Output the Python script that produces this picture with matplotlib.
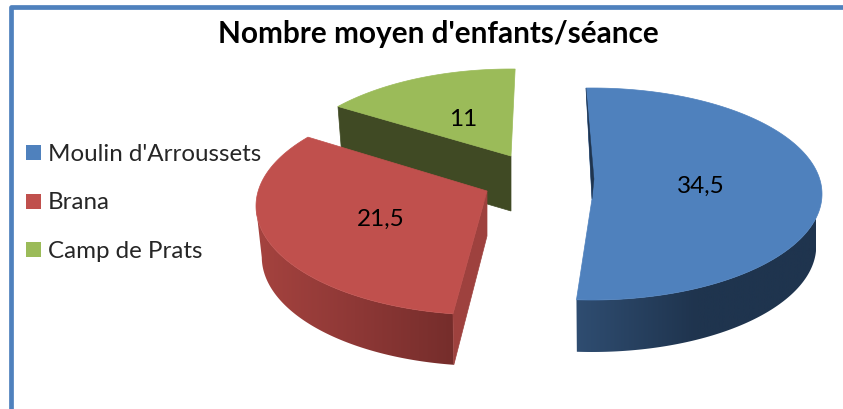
# Nombre moyen d'enfants/seance : camembert 3D eclate
import numpy as np
import matplotlib
matplotlib.use("Agg")
from matplotlib import pyplot as plt
from matplotlib.colors import LinearSegmentedColormap
from matplotlib.patches import Polygon, Rectangle

title = "Nombre moyen d'enfants/séance"
categories = ["Moulin d'Arroussets", "Brana", "Camp de Prats"]
values = [34.5, 21.5, 11]
labels = ["34,5", "21,5", "11"]

top_colors = ["#4F81BD", "#C0504D", "#9BBB59"]
wall_colors = [["#2F4D71", "#1F344E", "#1F344E"],
               ["#A5433F", "#8E3836", "#752D2B"],
               ["#404A24", "#404A24", "#404A24"]]

# position of each exploded slice on the canvas
apex = [(592, 200), (487, 192), (511, 157)]
turn = [-1.5, 3.1, 10.6]
stretch = [1.0, 1.045, 0.838]
rad_x = [230, 231, 231]
rad_y = [106, 109, 111]
drop = [-5, 15, 24]
depth = [52, 51, 55]
label_pos = [(701, 186), (381, 219), (463, 120)]

plt.rcParams['font.family'] = ['Lato', 'DejaVu Sans']

fig = plt.figure(figsize=(8.43, 4.10), dpi=100)
ax = fig.add_axes([0, 0, 1, 1])

# frame, only top and left are in the picture
ax.plot([11, 11, 843], [410, 7.5, 7.5], color="#4F81BD", lw=3.4,
        solid_joinstyle='round', solid_capstyle='butt')


def outline(i, t):
    return rad_x[i] * np.sin(t), drop[i] - rad_y[i] * np.cos(t)


angles = np.cumsum([0] + values) / sum(values) * 2 * np.pi


def draw_slice(i):
    a0 = angles[i] + np.radians(turn[i])
    a1 = a0 + (angles[i + 1] - angles[i]) * stretch[i]
    ax0, ay0 = apex[i]
    t = np.linspace(a0, a1, 200)
    dx, dy = outline(i, t)
    x, y = ax0 + dx, ay0 + dy
    xb, yb = ax0 + dx * 0.975, ay0 + dy + depth[i]

    if i == 2:
        # flat cut side of the green slice
        wall = [(x[0], y[0]), (ax0, ay0), (ax0, ay0 + depth[i]),
                (xb[0], yb[0])]
        ax.add_patch(Polygon(wall, fc=wall_colors[i][0], ec=wall_colors[i][0], lw=0.5))
    else:
        # rounded wall, only the part facing the front, shading runs along x
        front = (t >= np.pi / 2) & (t <= 3 * np.pi / 2)
        ring = np.column_stack([np.r_[x[front], xb[front][::-1]],
                                np.r_[y[front], yb[front][::-1]]])
        clip = Polygon(ring, fc='none', ec='none', transform=ax.transData)
        ax.add_patch(clip)
        cmap = LinearSegmentedColormap.from_list("w", wall_colors[i])
        x0 = ring[:, 0].min()
        x1 = x0 + 240 if i == 0 else x[0] + 2
        img = ax.imshow(np.linspace(0, 1, 256)[None, :], cmap=cmap, aspect='auto',
                        extent=[x0, x1, 400, 100], zorder=1)
        img.set_clip_path(clip)

    if i == 1:
        # front cut side of the red slice
        side = [(ax0, ay0), (x[0], y[0]), (xb[0], yb[0]), (ax0, ay0 + 45)]
        ax.add_patch(Polygon(side, fc="#9E413E", ec="#9E413E", lw=0.5, zorder=2))

    face = np.column_stack([np.r_[ax0, x], np.r_[ay0, y]])
    ax.add_patch(Polygon(face, fc=top_colors[i], ec=top_colors[i], lw=0.5, zorder=2))

    if i == 0:
        # dark sliver of the inner wall along the top left edge
        sliver = [(x[0], y[0]), (ax0 + 2, ay0 - 20), (ax0, ay0)]
        ax.add_patch(Polygon(sliver, fc="#1F344E", ec="#1F344E", lw=0.3, zorder=3))

    ax.text(label_pos[i][0], label_pos[i][1], labels[i], fontsize=17.5,
            color="black", ha='center', va='center', zorder=5)


for i in [2, 0, 1]:
    draw_slice(i)

ax.text(438, 33.5, title, fontsize=21.4, fontweight='bold', color="black",
        ha='center', va='center')

legend_y = [153.5, 202, 250]
for name, col, ly in zip(categories, top_colors, legend_y):
    ax.add_patch(Rectangle((26, ly - 7.5), 14.5, 15, fc=col, ec='none'))
    ax.text(48, ly + 1, name, fontsize=17.4, color="#262626", ha='left', va='center')

ax.set_xlim(0, 843)
ax.set_ylim(410, 0)
ax.axis('off')

fig.savefig("out.png", dpi=100)
